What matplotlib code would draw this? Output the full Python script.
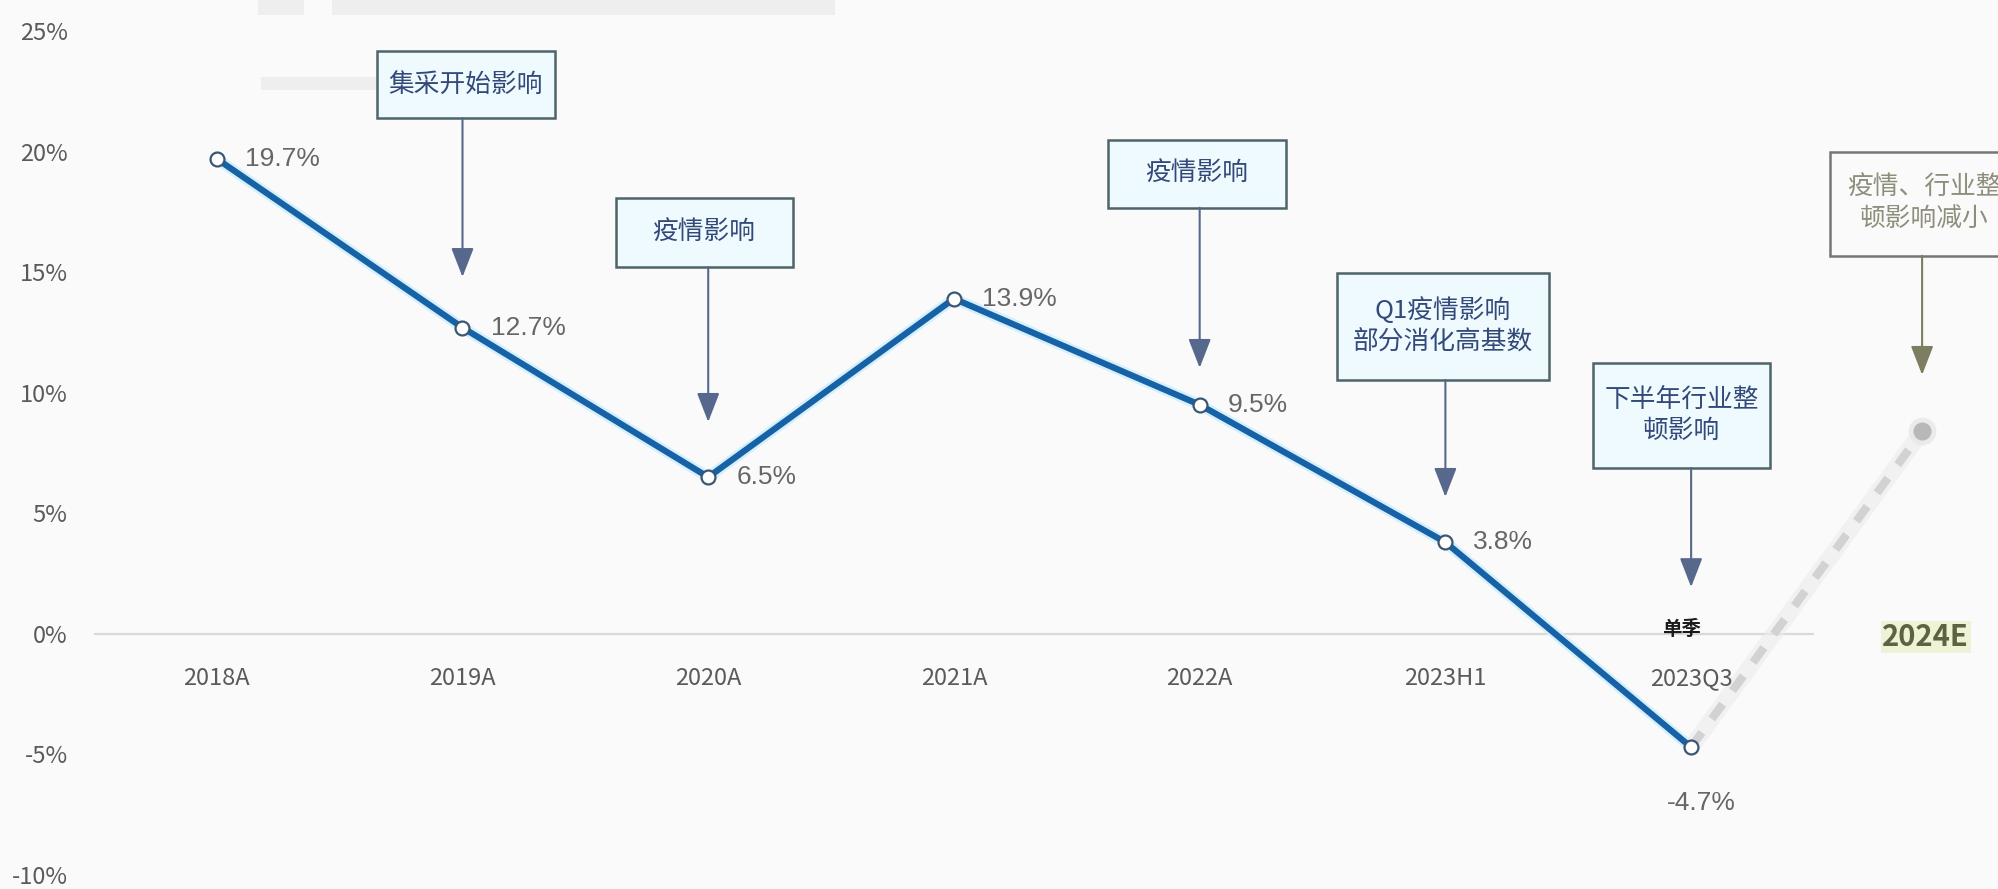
import matplotlib
matplotlib.use('Agg')
import matplotlib.pyplot as plt
import matplotlib.patheffects as pe
from matplotlib.patches import Rectangle

plt.rcParams['font.family'] = ['Noto Sans CJK SC', 'DejaVu Sans']

# growth rate by period
categories = ['2018A', '2019A', '2020A', '2021A', '2022A', '2023H1', '2023Q3']
growth = [19.7, 12.7, 6.5, 13.9, 9.5, 3.8, -4.7]
forecast_label = '2024E'
forecast_value = 8.4
yticks = [-10, -5, 0, 5, 10, 15, 20, 25]
ytick_labels = ['-10%', '-5%', '0%', '5%', '10%', '15%', '20%', '25%']

notes = ['集采开始影响', '疫情影响', '疫情影响',
         'Q1疫情影响\n部分消化高基数', '下半年行业整\n顿影响', '疫情、行业整\n顿影响减小']

# box layout: x0, x1, y_bottom, y_top, arrow x, arrow tip y
boxes = [
    (0.651, 1.375, 21.39, 24.17, 1.00, 14.80),
    (1.623, 2.343, 15.21, 18.08, 2.00, 8.79),
    (3.625, 4.353, 17.67, 20.49, 4.00, 11.03),
    (4.557, 5.423, 10.53, 14.97, 5.00, 5.68),
    (5.602, 6.322, 6.88, 11.24, 6.00, 1.94),
    (6.566, 7.330, 15.68, 19.99, 6.94, 10.74),
]
forecast_x = 6.94

bg = '#fafafa'
fig = plt.figure(figsize=(19.98, 8.89), dpi=100, facecolor=bg)
ax = fig.add_axes([0.047, 0.01575, 0.8609, 0.9494])
ax.set_facecolor('none')
ax.set_xlim(-0.5, 6.5)
ax.set_ylim(-10, 25)
for s in ax.spines.values():
    s.set_visible(False)
ax.set_xticks([])
ax.set_yticks(yticks)
ax.set_yticklabels(ytick_labels)
ax.tick_params(axis='y', length=0, pad=19, labelsize=17, labelcolor='#5a5a5a')

# faint bands left over at the top of the canvas
for x0, x1, y0, y1 in [(258, 304, 0, 15), (332, 835, 0, 15), (261, 377, 77, 90)]:
    fig.add_artist(Rectangle((x0 / 1998, 1 - y1 / 889), (x1 - x0) / 1998, (y1 - y0) / 889,
                             transform=fig.transFigure, fc='#eeeeee', ec='none', zorder=0))

ax.axhline(0, color='#d9d9d9', lw=1.6, zorder=1)

# dashed forecast segment, soft edged
fx = [len(categories) - 1, forecast_x]
fy = [growth[-1], forecast_value]
ax.plot(fx, fy, color='#ececec', lw=12, alpha=0.6, solid_capstyle='round', clip_on=False, zorder=2)
ax.plot(fx, fy, color='#d2d2d2', lw=6, ls=(0, (2.2, 2.0)), clip_on=False, zorder=2)
ax.plot([forecast_x], [forecast_value], 'o', ms=20, color='#e6e6e6', alpha=0.7, mec='none',
        clip_on=False, zorder=2)
ax.plot([forecast_x], [forecast_value], 'o', ms=13, color='#b8b8b8', mec='none',
        clip_on=False, zorder=3)

x = list(range(len(categories)))
ax.plot(x, growth, color='#1762a7', lw=4.5, solid_joinstyle='round', zorder=3,
        path_effects=[pe.Stroke(linewidth=8, foreground='#d3f0fc'), pe.Normal()])
ax.plot(x, growth, 'o', ms=10, mfc='white', mec='#3b5672', mew=1.6, zorder=4)

for i, v in enumerate(growth):
    if v < 0:
        ax.text(i + 0.04, v - 2.3, f'{v:.1f}%', ha='center', va='center', fontsize=19,
                family='Liberation Sans', color='#666666', zorder=5)
    else:
        ax.text(i + 0.114, v, f'{v:.1f}%', ha='left', va='center', fontsize=19,
                family='Liberation Sans', color='#666666', zorder=5)

for i, c in enumerate(categories):
    ax.text(i, -1.85, c, ha='center', va='center', fontsize=17, color='#5a5a5a')

ax.text(5.96, 0.2, '单季', ha='center', va='center', fontsize=14, fontweight='bold',
        color='#1a1a1a', zorder=5)
ax.text(6.955, -0.13, forecast_label, ha='center', va='center', fontsize=21, fontweight='bold',
        color='#5d6240', clip_on=False, zorder=5,
        bbox=dict(fc='#eef2d6', ec='none', pad=1))

for k, (note, (x0, x1, y0, y1, ax_x, tip)) in enumerate(zip(notes, boxes)):
    last = k == len(notes) - 1
    face = bg if last else '#eefafd'
    edge = '#767676' if last else '#4e6468'
    tcol = '#8e8e7c' if last else '#33497a'
    acol = '#7d7d62' if last else '#56688c'
    ax.add_patch(Rectangle((x0, y0), x1 - x0, y1 - y0, fc=face, ec=edge, lw=1.8,
                           clip_on=False, zorder=4))
    ax.text((x0 + x1) / 2, (y0 + y1) / 2, note, ha='center', va='center', fontsize=18.5,
            linespacing=1.3, color=tcol, clip_on=False, zorder=5)
    ax.annotate('', xy=(ax_x, tip), xytext=(ax_x, y0), annotation_clip=False,
                arrowprops=dict(arrowstyle='-|>,head_length=0.9,head_width=0.35', color=acol,
                                lw=1.5, mutation_scale=20, shrinkA=0, shrinkB=0), zorder=4)

fig.savefig('out.png', dpi=100, facecolor=bg)
